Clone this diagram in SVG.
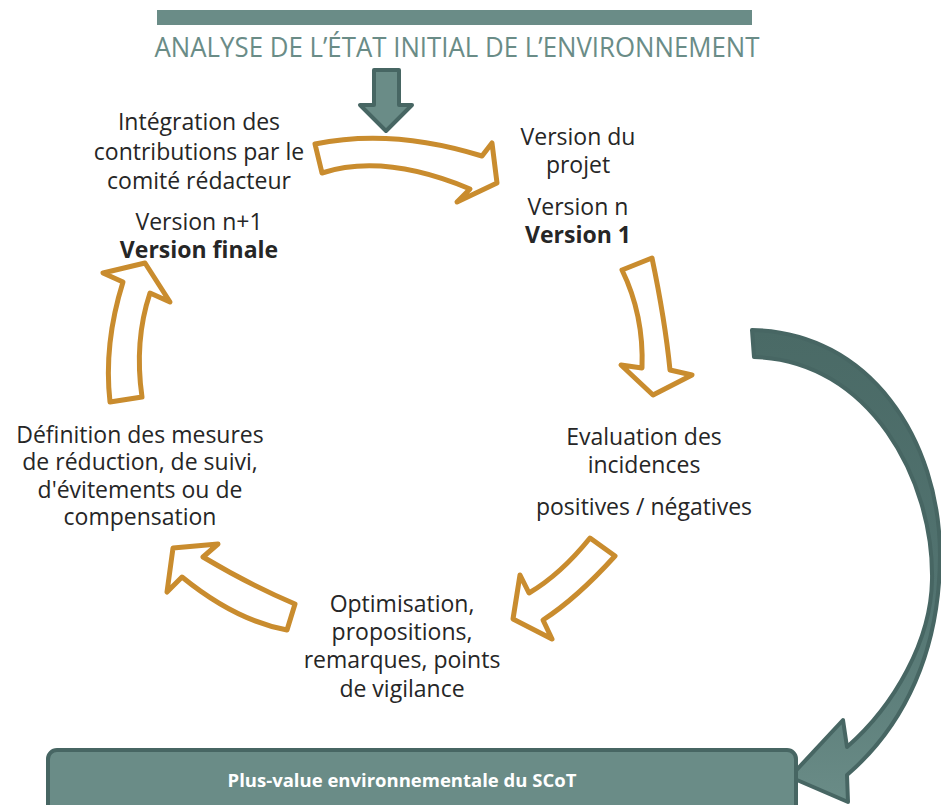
<svg xmlns="http://www.w3.org/2000/svg" width="941" height="805" viewBox="0 0 941 805">
<style>
.t{font-family:"Open Sans","Liberation Sans",sans-serif;font-size:23px;fill:#262626;text-anchor:middle}
.b{font-weight:bold}
.oa{fill:#fff;stroke:#c98c2e;stroke-width:5;stroke-linejoin:round}
</style>
<defs>
<linearGradient id="g" x1="0" y1="0" x2="0" y2="1">
<stop offset="0" stop-color="#4a6a66"/>
<stop offset="0.55" stop-color="#527370"/>
<stop offset="1" stop-color="#6a8c87"/>
</linearGradient>
</defs>
<rect width="941" height="805" fill="#fff"/>
<g id="title">
<rect x="157" y="10" width="595" height="15" fill="#6a8c87"/>
<text x="457" y="57" font-family="Open Sans, Liberation Sans, sans-serif" font-size="27" fill="#6a8c87" text-anchor="middle" textLength="605" lengthAdjust="spacingAndGlyphs">ANALYSE DE L’ÉTAT INITIAL DE L’ENVIRONNEMENT</text>
</g>
<g id="connectors">
<path d="M374,70 H399 V105 H412 L386,131 L360,105 H374 Z" fill="#6a8c87" stroke="#476663" stroke-width="4" stroke-linejoin="round"/>
<path class="oa" d="M315,144 Q392,128 482,156 L492,143 L497,183 L457,202 L470,189 Q384,153 322,173 Z"/>
<path class="oa" d="M622,270 L652,258 Q665,320 670,370 L692,375 L653,395 L621,365 L642,368 Q644,315 622,270 Z"/>
<path class="oa" d="M590,538 L615,556 Q577,598 543,620 L552,639 L513,619 L520,575 L529,593 Q560.5,574.5 590,538 Z"/>
<path class="oa" d="M295,604 L287,630 Q235.5,620.5 182,577 L167,592 L173,548 L218,544 L203,557 Q251,585.5 295,604 Z"/>
<path class="oa" d="M110,402 L142,397 Q134,341 150,293 L170,302 L145,263 L103,273 L123,282 Q103.5,344 110,402 Z"/>
<path d="M752,330 C870,332 940,440 940,555 C940,650 905,725 847,775 L848,802 L790,777 L843,720 L847,747 C895,705 931,640 932,580 C934,480 870,360 754,357 Z" fill="url(#g)" stroke="#476663" stroke-width="4" stroke-linejoin="round"/>
</g>
<g id="node-integration">
<text class="t" x="199" y="130">Intégration des</text>
<text class="t" x="199" y="160">contributions par le</text>
<text class="t" x="199" y="189">comité rédacteur</text>
<text class="t" x="199" y="230">Version n+1</text>
<text class="t b" x="199" y="258">Version finale</text>
</g>
<g id="node-version">
<text class="t" x="578" y="145">Version du</text>
<text class="t" x="578" y="173">projet</text>
<text class="t" x="578" y="215">Version n</text>
<text class="t b" x="578" y="243">Version 1</text>
</g>
<g id="node-evaluation">
<text class="t" x="644" y="445">Evaluation des</text>
<text class="t" x="644" y="473">incidences</text>
<text class="t" x="644" y="515">positives / négatives</text>
</g>
<g id="node-optimisation">
<text class="t" x="402" y="612">Optimisation,</text>
<text class="t" x="402" y="640">propositions,</text>
<text class="t" x="402" y="668">remarques, points</text>
<text class="t" x="402" y="697">de vigilance</text>
</g>
<g id="node-definition">
<text class="t" x="140" y="443">Définition des mesures</text>
<text class="t" x="140" y="470">de réduction, de suivi,</text>
<text class="t" x="140" y="498">d'évitements ou de</text>
<text class="t" x="140" y="525">compensation</text>
</g>
<g id="node-plusvalue">
<rect x="48" y="750" width="748" height="70" rx="9" fill="#6a8c87" stroke="#476663" stroke-width="4"/>
<text x="402" y="787" font-family="Open Sans, Liberation Sans, sans-serif" font-size="18.5" font-weight="bold" fill="#fff" text-anchor="middle">Plus-value environnementale du SCoT</text>
</g>
</svg>
